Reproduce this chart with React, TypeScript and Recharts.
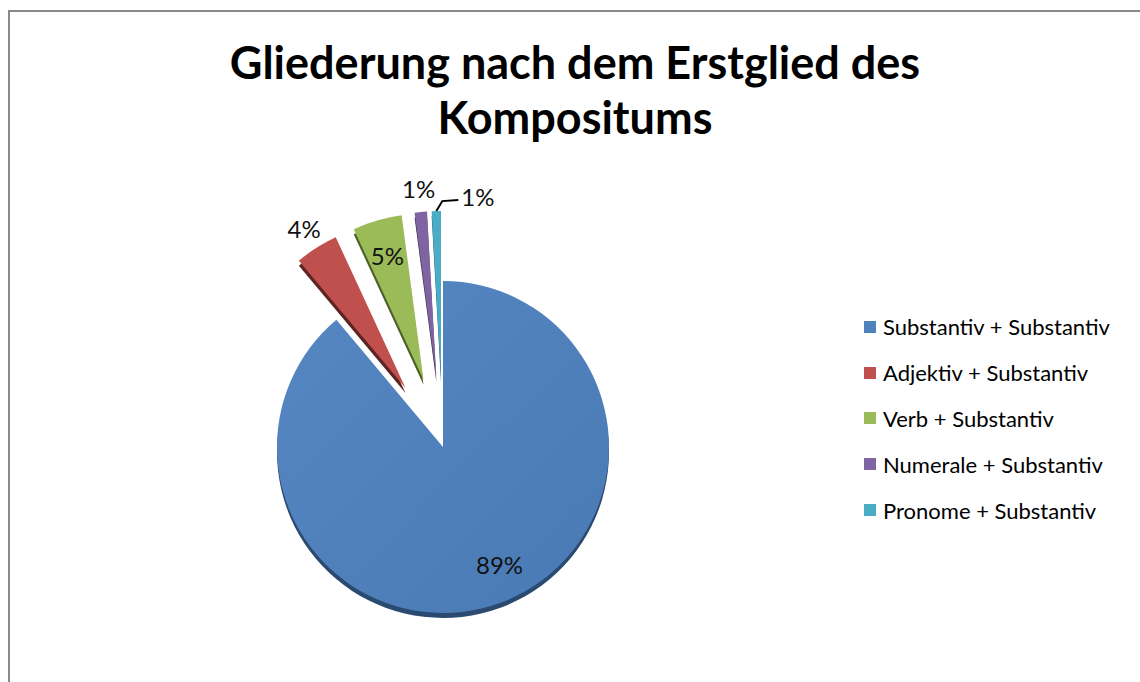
import { PieChart, Pie, Cell, Legend, Sector } from 'recharts'

// Anteile in Prozent
const categories = [
  'Substantiv + Substantiv',
  'Adjektiv + Substantiv',
  'Verb + Substantiv',
  'Numerale + Substantiv',
  'Pronome + Substantiv',
]
const shares = [88.9, 4.2, 4.8, 1.2, 0.9]
const colors = ['#4F81BD', '#C0504D', '#9BBB59', '#8064A2', '#4BACC6']
const sideColors = ['#2b4a70', '#5e2422', '#4b5f27', '#3e3150', '#22596a']
const exploded = [false, true, true, true, true]

const data = categories.map((name, i) => ({ name, value: shares[i] }))

const RAD = Math.PI / 180
const EXPLODE = 70
const DEPTH = 5
const FONT = 'Lato, "Open Sans", sans-serif'

function offsetCenter(cx: number, cy: number, midAngle: number, index: number) {
  const d = exploded[index] ? EXPLODE : 0
  return {
    x: cx + d * Math.cos(-midAngle * RAD),
    y: cy + d * Math.sin(-midAngle * RAD),
  }
}

function ExplodedSector(props: any) {
  const { cx, cy, innerRadius, outerRadius, startAngle, endAngle, midAngle } = props
  const index = categories.indexOf(props.name ?? props.payload?.name)
  const c = offsetCenter(cx, cy, midAngle, index)
  return (
    <g>
      <Sector
        cx={c.x}
        cy={c.y + DEPTH}
        innerRadius={innerRadius}
        outerRadius={outerRadius}
        startAngle={startAngle}
        endAngle={endAngle}
        fill={sideColors[index]}
      />
      <Sector
        cx={c.x}
        cy={c.y}
        innerRadius={innerRadius}
        outerRadius={outerRadius}
        startAngle={startAngle}
        endAngle={endAngle}
        fill={index === 0 ? 'url(#blueFace)' : colors[index]}
      />
    </g>
  )
}

function renderLabel(props: any) {
  const { cx, cy, midAngle, outerRadius, percent, index } = props
  const c = offsetCenter(cx, cy, midAngle, index)
  const cos = Math.cos(-midAngle * RAD)
  const sin = Math.sin(-midAngle * RAD)
  const text = `${Math.round(percent * 100)}%`
  const style = { fontFamily: FONT, fontSize: 24, fill: '#111' }

  if (percent >= 0.045) {
    const r = outerRadius * (index === 0 ? 0.75 : 0.78)
    return (
      <text x={c.x + r * cos + (index === 0 ? 14 : 0)} y={c.y + r * sin} textAnchor="middle" dominantBaseline="central" style={style}>
        {text}
      </text>
    )
  }
  if (percent < 0.01) {
    // tiny slice: label pushed to the right with a leader line
    const sx = c.x + outerRadius * cos
    const sy = c.y + outerRadius * sin
    return (
      <g>
        <polyline
          points={`${sx},${sy} ${sx + 6},${sy - 10} ${sx + 22},${sy - 11}`}
          fill="none"
          stroke="#000"
          strokeWidth={2}
        />
        <text x={sx + 25} y={sy - 15} textAnchor="start" dominantBaseline="central" style={style}>
          {text}
        </text>
      </g>
    )
  }
  const r = outerRadius * 1.14
  return (
    <text x={c.x + r * cos} y={c.y + r * sin} textAnchor="middle" dominantBaseline="central" style={style}>
      {text}
    </text>
  )
}

function renderLegend(props: any) {
  const items = [...props.payload].sort(
    (a: any, b: any) => categories.indexOf(a.value) - categories.indexOf(b.value)
  )
  return (
    <ul style={{ listStyle: 'none', margin: 0, padding: 0 }}>
      {items.map((entry: any) => (
        <li
          key={entry.value}
          style={{ height: 45.8, display: 'flex', alignItems: 'center', fontFamily: FONT, fontSize: 22, color: '#000' }}
        >
          <span style={{ width: 12, height: 12, background: entry.color, marginRight: 7, display: 'inline-block' }} />
          {entry.value}
        </li>
      ))}
    </ul>
  )
}

export default function App() {
  return (
    <>
      <style>{'html, body { overflow: hidden; margin: 0; }'}</style>
      <div style={{ position: 'absolute', left: 8, top: 10, width: 1132, height: 672, background: '#fff' }}>
        <div style={{ position: 'absolute', left: 0, top: 0, width: 2, height: 672, background: '#8a8a8a' }} />
        <div style={{ position: 'absolute', left: 0, top: 0, width: 1132, height: 2, background: '#8a8a8a' }} />
        <div
          style={{
            position: 'absolute',
            left: 2,
            top: 25,
            width: 1130,
            textAlign: 'center',
            fontFamily: FONT,
            fontWeight: 700,
            fontSize: 45,
            lineHeight: '55px',
            color: '#000',
          }}
        >
          Gliederung nach dem Erstglied des
          <br />
          Kompositums
        </div>
        <div style={{ position: 'absolute', left: 2, top: 2 }}>
          <PieChart width={1110} height={668}>
            <defs>
              <linearGradient id="blueFace" x1="0" y1="0" x2="1" y2="1">
                <stop offset="0%" stopColor="#5587c3" />
                <stop offset="100%" stopColor="#4a7ab4" />
              </linearGradient>
            </defs>
            <Pie
              data={data}
              dataKey="value"
              nameKey="name"
              cx={428}
              cy={430}
              outerRadius={166}
              startAngle={90}
              endAngle={-270}
              stroke="none"
              shape={ExplodedSector}
              label={renderLabel}
              labelLine={false}
              isAnimationActive={false}
            >
              {data.map((d, i) => (
                <Cell key={d.name} fill={colors[i]} />
              ))}
            </Pie>
            <Legend
              layout="vertical"
              content={renderLegend}
              wrapperStyle={{ left: 854, top: 292, width: 254 }}
            />
          </PieChart>
        </div>
      </div>
    </>
  )
}
